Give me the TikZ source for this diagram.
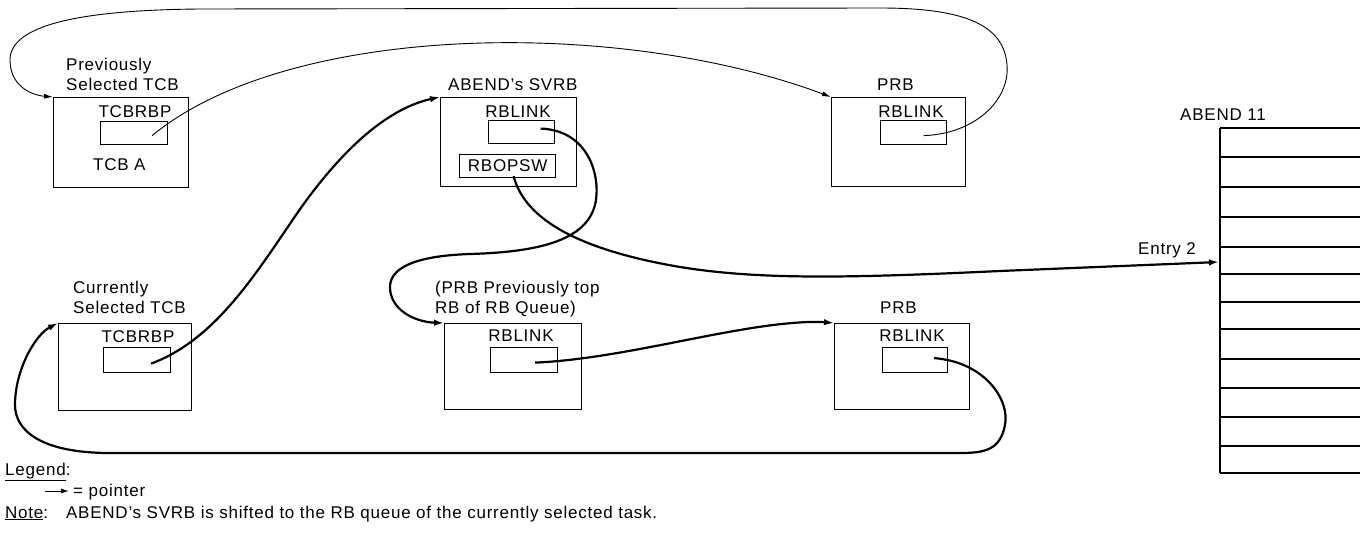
\documentclass[tikz,border=0pt]{standalone}
\usepackage{fontspec}
\setmainfont{Liberation Sans}[LetterSpace=4.5]
\usetikzlibrary{arrows.meta,calc}
\begin{document}
\begin{tikzpicture}[x=1pt,y=-1pt,
  box/.style={draw, line width=1.2pt, anchor=north west, inner sep=0pt},
  lbl/.style={anchor=base west, inner sep=0pt, font=\fontsize{17}{19}\selectfont},
  clbl/.style={anchor=base, inner sep=0pt, font=\fontsize{17}{19}\selectfont},
  thinptr/.style={line width=0.9pt, -{Latex[length=9pt,width=5pt]}},
  thickptr/.style={line width=2.2pt, -{Latex[length=10pt,width=6.5pt]}},
  tabline/.style={line width=1.1pt}
  ]
\useasboundingbox (0,0) rectangle (1360,541);

% ---------- top row ----------
\node[box, minimum width=135pt, minimum height=90pt] (tcbA) at (53,97) {};
\node[box, minimum width=67pt, minimum height=23pt] (inA) at (100,121) {};
\node[lbl] (tA1) at (66,70) {Previously};
\node[lbl] (tA2) at (66,90) {Selected TCB};
\node[clbl] (tA3) at (135,117) {TCBRBP};
\node[lbl] (tA4) at (93,170) {TCB A};

\node[box, minimum width=136pt, minimum height=89pt] (svrb) at (440,97) {};
\node[box, minimum width=66pt, minimum height=23pt] (inS) at (488,120) {};
\node[box, minimum width=96pt, minimum height=23pt, font=\fontsize{17}{19}\selectfont] (opsw) at (459,154) {RBOPSW};
\node[lbl] (tS1) at (448,90) {ABEND's SVRB};
\node[clbl] (tS2) at (518,117) {RBLINK};

\node[box, minimum width=134pt, minimum height=89pt] (prbT) at (831,97) {};
\node[box, minimum width=66pt, minimum height=24pt] (inPT) at (880,120) {};
\node[lbl] (tP1) at (877,90) {PRB};
\node[clbl] (tP2) at (911,117) {RBLINK};

% ---------- bottom row ----------
\node[box, minimum width=133pt, minimum height=87pt] (tcbC) at (58,323) {};
\node[box, minimum width=67pt, minimum height=25pt] (inC) at (103,347) {};
\node[lbl] (tC1) at (73,293) {Currently};
\node[lbl] (tC2) at (73,313) {Selected TCB};
\node[clbl] (tC3) at (138,342) {TCBRBP};

\node[box, minimum width=137pt, minimum height=86pt] (prbM) at (444,323) {};
\node[box, minimum width=67pt, minimum height=25pt] (inM) at (490,347) {};
\node[lbl] (tM1) at (435,293) {(PRB Previously top};
\node[lbl] (tM2) at (435,313) {RB of RB Queue)};
\node[clbl] (tM3) at (521,341) {RBLINK};

\node[box, minimum width=135pt, minimum height=86pt] (prbB) at (834,323) {};
\node[box, minimum width=65pt, minimum height=25pt] (inB) at (882,347) {};
\node[lbl] (tB1) at (880,313) {PRB};
\node[clbl] (tB2) at (912,341) {RBLINK};

% ---------- ABEND 11 table ----------
\node[lbl] (tT) at (1180,120) {ABEND 11};
\draw[tabline] (1220,128) -- (1220,473);
\foreach \yy in {128,157,187,217,247,274,302,329,359,388,417,446,473}
  \draw[tabline] (1220,\yy) -- (1360,\yy);
\coordinate (entry2) at (1219,262);
\node[lbl] (tE) at (1138,254) {Entry 2};

% ---------- pointer start points ----------
\coordinate (sA) at ($(inA.center)+(18,2.5)$);
\coordinate (sC) at ($(inC.center)+(14,3.5)$);
\coordinate (sS) at ($(inS.center)+(19,-3.5)$);
\coordinate (sO) at ($(opsw.south)+(6,-2)$);
\coordinate (sPT) at ($(inPT.center)+(10,3)$);
\coordinate (sM) at ($(inM.center)+(11,2.5)$);
\coordinate (sB) at ($(inB.center)+(19,-2)$);

% ---------- pointers ----------
% TCB A -> PRB (top)
\draw[thinptr] (sA) .. controls (290,22) and (620,18) .. (prbT.north west);
% PRB (top) -> TCB A
\draw[thinptr] (sPT) .. controls (975,134) and (1010,100) .. (1007,65)
  .. controls (1004,25) and (965,8) .. (880,8)
  -- (200,9) .. controls (80,10) and (10,25) .. (10,60)
  .. controls (10,85) and (30,95) .. (tcbA.north west);
% current TCB -> ABEND's SVRB
\draw[thickptr] (sC) .. controls (215,340) and (255,275) .. (298,212)
  .. controls (345,145) and (390,108) .. (svrb.north west);
% SVRB RBLINK -> PRB (previously top)
\draw[thickptr] (sS) .. controls (585,130) and (600,170) .. (596,200)
  .. controls (590,240) and (540,252) .. (470,254)
  .. controls (410,256) and (390,270) .. (390,287)
  .. controls (390,310) and (415,322) .. (prbM.north west);
% RBOPSW -> Entry 2
\draw[thickptr] (sO) .. controls (525,220) and (580,250) .. (680,267)
  .. controls (760,280) and (850,278) .. (1000,271) -- (entry2);
% middle PRB -> bottom PRB
\draw[thickptr] (sM) .. controls (600,360) and (680,340) .. (740,330)
  .. controls (780,323) and (810,321) .. (prbB.north west);
% bottom PRB -> current TCB
\draw[thickptr] (sB) .. controls (985,362) and (1010,400) .. (1005,425)
  .. controls (1000,450) and (985,453) .. (960,453)
  -- (110,453) .. controls (40,453) and (15,430) .. (15,405)
  .. controls (15,370) and (35,335) .. (tcbC.north west);

% ---------- legend and note ----------
\node[lbl] (lg) at (5,475) {\underline{Legend}:};
\coordinate (lgA) at (45,491);
\coordinate (lgB) at (69,491);
\draw[line width=1pt, -{Latex[length=8pt,width=5pt]}] (lgA) -- (lgB);
\node[lbl] (lgT) at (73,496) {= pointer};
\node[lbl] (nt) at (5,518) {\underline{Note}:\hspace{18pt}ABEND's SVRB is shifted to the RB queue of the currently selected task.};
\end{tikzpicture}
\end{document}
